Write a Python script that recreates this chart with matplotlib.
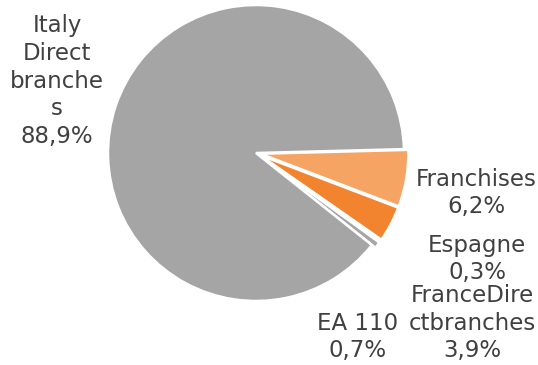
import matplotlib
matplotlib.use("Agg")
import matplotlib.pyplot as plt

categories = ["Franchises", "FranceDirectbranches", "Espagne", "EA 110", "Italy Direct branches"]
values = [6.2, 3.9, 0.3, 0.7, 88.9]
colors = ["#F5A463", "#F3842F", "#CFCFCF", "#A5A5A5", "#A5A5A5"]
explode = [0.03, 0.03, 0.03, 0.03, 0.0]

label_texts = {
    "Italy Direct branches": "Italy\nDirect\nbranche\ns\n88,9%",
    "Franchises": "Franchises\n6,2%",
    "Espagne": "Espagne\n0,3%",
    "FranceDirectbranches": "FranceDire\nctbranches\n3,9%",
    "EA 110": "EA 110\n0,7%",
}
label_pos = {
    "Italy Direct branches": (57, 81),
    "Franchises": (476, 193),
    "Espagne": (477, 259),
    "FranceDirectbranches": (472, 323),
    "EA 110": (358, 337),
}

W, H = 538, 365
fig = plt.figure(figsize=(W / 100, H / 100), dpi=100)
cx, cy, r = 256, H - 153, 148
lim = 1.05
half = lim * r
ax = fig.add_axes([(cx - half) / W, (cy - half) / H, 2 * half / W, 2 * half / H])
ax.pie(values, colors=colors, explode=explode, startangle=1.5, counterclock=False,
       wedgeprops=dict(edgecolor="white", linewidth=1.8))
ax.set_xlim(-lim, lim)
ax.set_ylim(-lim, lim)
ax.set_aspect("equal")
ax.axis("off")

for cat in categories:
    x, y = label_pos[cat]
    fig.text(x / W, 1 - y / H, label_texts[cat], ha="center", va="center",
             fontsize=16.5, color="#404040", family="DejaVu Sans",
             linespacing=1.26)

fig.savefig("out.png", dpi=100)
